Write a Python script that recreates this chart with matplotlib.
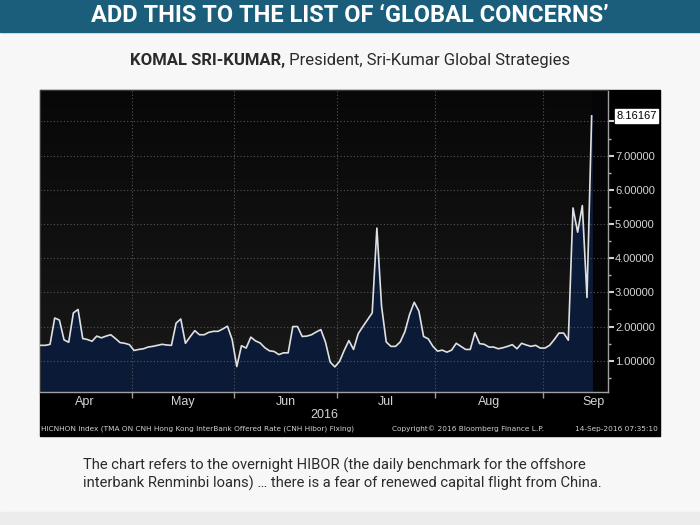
import numpy as np
import matplotlib
matplotlib.use("Agg")
import matplotlib.pyplot as plt
from matplotlib.patches import Rectangle
from matplotlib.colors import LinearSegmentedColormap

# ---------------- data ----------------
title = "ADD THIS TO THE LIST OF \u2018GLOBAL CONCERNS\u2019"
subtitle_bold = "KOMAL SRI-KUMAR,"
subtitle_rest = " President, Sri-Kumar Global Strategies"
caption_lines = [
    "The chart refers to the overnight HIBOR (the daily benchmark for the offshore",
    "interbank Renminbi loans) \u2026 there is a fear of renewed capital flight from China.",
]
# daily fixings (HK business days), 1 Apr 2016 .. 14 Sep 2016
hibor = [
    1.45, 1.45, 1.48, 2.25, 2.19, 1.61, 1.54, 2.40, 2.50, 1.65,
    1.62, 1.57, 1.72, 1.67, 1.72, 1.76, 1.65, 1.53, 1.51, 1.47,
    1.30, 1.33, 1.35, 1.40, 1.42, 1.45, 1.48, 1.46, 1.45, 2.10,
    2.22, 1.51, 1.70, 1.88, 1.76, 1.76, 1.83, 1.86, 1.86, 1.93,
    2.01, 1.62, 0.83, 1.44, 1.37, 1.69, 1.58, 1.52, 1.38, 1.29,
    1.27, 1.18, 1.23, 1.23, 2.00, 2.00, 1.71, 1.72, 1.76, 1.84,
    1.91, 1.54, 0.96, 0.82, 0.98, 1.30, 1.59, 1.33, 1.79, 2.00,
    2.20, 2.40, 4.88, 2.60, 1.55, 1.42, 1.42, 1.55, 1.85, 2.35,
    2.71, 2.45, 1.71, 1.64, 1.42, 1.28, 1.31, 1.25, 1.31, 1.51,
    1.42, 1.33, 1.33, 1.82, 1.50, 1.48, 1.40, 1.40, 1.35, 1.38,
    1.42, 1.47, 1.35, 1.51, 1.46, 1.42, 1.45, 1.37, 1.37, 1.45,
    1.62, 1.81, 1.81, 1.60, 5.47, 4.76, 5.54, 2.85, 8.16167,
]
months = ["Apr", "May", "Jun", "Jul", "Aug", "Sep"]
fixings_per_month = [20, 22, 22, 21, 23, 22]   # Sep: full-month span for label centring
year_label = "2016"
last_value_label = "8.16167"
footer_left = "HICNHON Index (TMA ON CNH Hong Kong InterBank Offered Rate (CNH Hibor) Fixing)"
footer_mid = "Copyright\u00a9 2016 Bloomberg Finance L.P."
footer_right = "14-Sep-2016 07:35:10"
y_ticks = [1, 2, 3, 4, 5, 6, 7, 8]

# ---------------- figure ----------------
W, H = 700, 525
fig = plt.figure(figsize=(7, 5.25), dpi=100, facecolor="#f7f7f7")

def fx(px):
    return px / W

def fy(py):
    return 1 - py / H

# banner
fig.patches.append(Rectangle((0, fy(32)), 1, 32 / H, transform=fig.transFigure,
                             color="#1b5e7c", zorder=-5))
fig.text(0.5, fy(16), title, ha="center", va="center", color="white",
         fontsize=17, fontweight="bold", family="Roboto")

# subtitle (bold + regular, centred together)
renderer = fig.canvas.get_renderer()
tb = fig.text(0, fy(60), subtitle_bold, ha="left", va="center", color="#2b2b2b",
              fontsize=12, fontweight="bold", family="Roboto")
tr = fig.text(0, fy(60), subtitle_rest, ha="left", va="center", color="#2b2b2b",
              fontsize=12, family="Roboto")
wb = tb.get_window_extent(renderer).width / fig.bbox.width
wr = tr.get_window_extent(renderer).width / fig.bbox.width
x0 = 0.5 - (wb + wr) / 2
tb.set_x(x0)
tr.set_x(x0 + wb)

# black chart box
fig.patches.append(Rectangle((fx(40), fy(436)), 620 / W, 346 / H,
                             transform=fig.transFigure, color="#000000", zorder=-5))

# caption
for i, line in enumerate(caption_lines):
    fig.text(fx(83), fy(465 + 18 * i), line, ha="left", va="center",
             color="#2b2b2b", fontsize=10.6, family="Roboto")

# footer strip
fig.patches.append(Rectangle((0, 0), 1, 13 / H, transform=fig.transFigure,
                             color="#ececec", zorder=-5))

# ---------------- plot ----------------
ax = fig.add_axes([fx(40), fy(392), (608 - 40) / W, (392 - 90) / H])
ax.set_zorder(2)
x = np.arange(len(hibor))
xmin, xmax = -0.15, 121.5
ymin, ymax = 0.085, 8.92
ax.set_xlim(xmin, xmax)
ax.set_ylim(ymin, ymax)

bg = LinearSegmentedColormap.from_list("bg", ["#191919", "#080808"])
ax.imshow(np.linspace(0, 1, 256).reshape(-1, 1), cmap=bg, aspect="auto",
          extent=[xmin, xmax, ymin, ymax], origin="lower", zorder=0)
ax.axvspan(x[-1] + 0.15, xmax, color="#050507", zorder=0.5)

ax.fill_between(x, hibor, ymin, color="#0b1b37", zorder=1)
ax.plot(x, hibor, color="#e0e0e0", lw=1.2, zorder=3)

# month boundaries / labels
bounds = np.cumsum(fixings_per_month) - 0.5
starts = np.concatenate([[-0.5], bounds[:-1]])
centers = starts + np.array(fixings_per_month) / 2
ax.set_xticks(bounds[:-1])
ax.set_xticklabels([""] * (len(bounds) - 1))
ax.set_xticks(centers, minor=True)
ax.set_xticklabels(months, minor=True)
ax.tick_params(axis="x", which="major", direction="out", length=4, color="#9a9a9a", width=1)
ax.tick_params(axis="x", which="minor", length=0, pad=3, labelcolor="#d4d4d4",
               labelsize=9)
for lab in ax.get_xticklabels(minor=True):
    lab.set_family("Liberation Sans")

ax.yaxis.tick_right()
ax.set_yticks(y_ticks)
ax.set_yticklabels([f"{v:.5f}" if v < 8 else "" for v in y_ticks])
ax.set_yticks(list(np.array(y_ticks[:-1]) + 0.5) + [0.5], minor=True)
ax.tick_params(axis="y", which="major", direction="out", length=4, width=1.5,
               color="#d0d0d0", labelcolor="#d4d4d4", labelsize=8, pad=1)
ax.tick_params(axis="y", which="minor", direction="out", length=2, width=1,
               color="#b0b0b0")
for lab in ax.get_yticklabels():
    lab.set_family("Liberation Sans")

ax.grid(axis="y", which="major", color="#555555", lw=0.8, ls=(0, (1, 2)), zorder=2)
for b in bounds[:-1]:
    ax.axvline(b, color="#555555", lw=0.8, ls=(0, (1, 2)), zorder=2)

for side in ["left", "top"]:
    ax.spines[side].set_color("#3a3a3a")
for side in ["right", "bottom"]:
    ax.spines[side].set_color("#a0a0a0")
    ax.spines[side].set_linewidth(1.0)

ax.annotate(last_value_label, xy=(1.0, hibor[-1]), xycoords=("axes fraction", "data"),
            xytext=(6, 0), textcoords="offset points", ha="left", va="center",
            fontsize=8, color="#000000", family="Liberation Sans",
            bbox=dict(boxstyle="square,pad=0.15", fc="white", ec="white"),
            annotation_clip=False, zorder=5)

fig.text(0.5 * (fx(40) + fx(608)), fy(415), year_label, ha="center", va="center",
         color="#d4d4d4", fontsize=9, family="Liberation Sans")
fig.text(fx(41), fy(429), footer_left, ha="left", va="center", color="#d0d0d0",
         fontsize=5.3, family="DejaVu Sans")
fig.text(fx(392), fy(429), footer_mid, ha="left", va="center", color="#d0d0d0",
         fontsize=5.3, family="DejaVu Sans")
fig.text(fx(658), fy(429), footer_right, ha="right", va="center", color="#d0d0d0",
         fontsize=5.3, family="DejaVu Sans")

fig.savefig("out.png", dpi=100, facecolor=fig.get_facecolor())
